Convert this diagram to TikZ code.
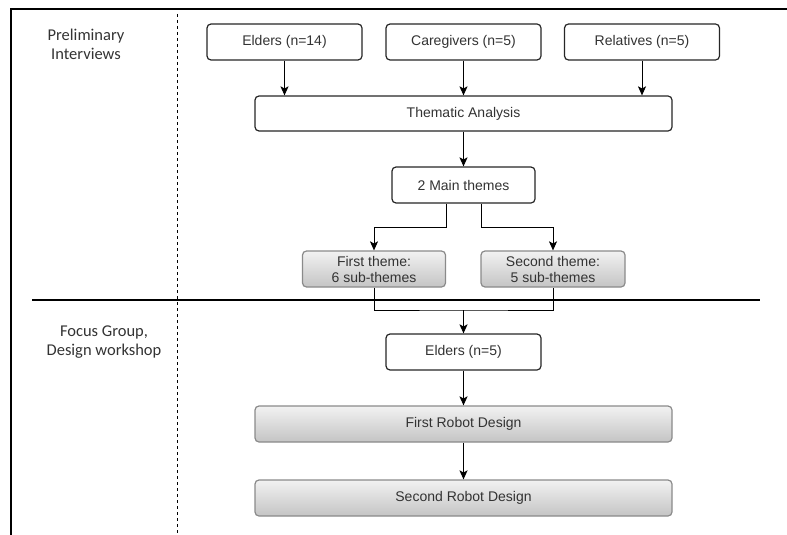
\documentclass[tikz,border=0pt]{standalone}
\usepackage{fontspec}
\setmainfont{Liberation Sans}
\newfontfamily\lblfont{Carlito}
\usetikzlibrary{arrows.meta,calc}
\definecolor{txtgray}{HTML}{333333}
\definecolor{bordgray}{HTML}{8A8A8A}
\definecolor{gtop}{HTML}{F2F2F2}
\definecolor{gbot}{HTML}{C4C4C4}
\tikzset{
  wbox/.style={draw=black!85, line width=1.2pt, rounded corners=4pt, fill=white,
    inner sep=0pt, align=center, text=txtgray, font=\fontsize{14}{16}\selectfont},
  gbox/.style={draw=bordgray, line width=1.2pt, rounded corners=4pt,
    top color=gtop, bottom color=gbot, inner sep=0pt, align=center, text=txtgray,
    font=\fontsize{14}{16}\selectfont},
  lbl/.style={align=center, text=txtgray, inner sep=0pt, font=\lblfont\fontsize{16.5}{19}\selectfont},
  arr/.style={line width=1pt, -{Stealth[length=9pt,width=8pt,inset=2pt]}},
  conn/.style={line width=1pt},
}
\begin{document}
\begin{tikzpicture}[x=1pt,y=-1pt]
\useasboundingbox (0,0) rectangle (787,535);
% frame
\draw[line width=2pt] (11,535) -- (11,9) -- (787,9);
\draw[line width=1pt, dash pattern=on 3pt off 3pt] (177,14) -- (177,535);
\draw[line width=2pt] (32,300) -- (760,300);
% labels
\node[lbl] (lpi) at (86,44) {Preliminary\\Interviews};
\node[lbl] (lfg) at (104,342) {Focus Group,\\Design workshop};
% boxes
\node[wbox, minimum width=155pt, minimum height=36pt] (e14) at (284.5,42) {Elders (n=14)};
\node[wbox, minimum width=155pt, minimum height=36pt] (cg) at (463.5,42) {Caregivers (n=5)};
\node[wbox, minimum width=155pt, minimum height=36pt] (rel) at (642,42) {Relatives (n=5)};
\node[wbox, minimum width=417pt, minimum height=35pt] (ta) at (463.5,113.5) {Thematic Analysis};
\node[wbox, minimum width=143pt, minimum height=36pt] (mt) at (463.5,185) {2 Main themes};
\node[gbox, minimum width=143pt, minimum height=36pt] (ft) at (374,269) {First theme:\\6 sub-themes};
\node[gbox, minimum width=144pt, minimum height=36pt] (st) at (553,269) {Second theme:\\5 sub-themes};
\node[wbox, minimum width=155pt, minimum height=36pt] (e5) at (463.5,352) {Elders (n=5)};
\node[gbox, minimum width=417pt, minimum height=36pt] (frd) at (463.5,424) {First Robot Design};
\node[gbox, minimum width=417pt, minimum height=36pt] (srd) at (463.5,498) {Second Robot Design};
% connectors
\draw[arr] (e14.south) -- (e14.south |- ta.north);
\draw[arr] (cg.south) -- (cg.south |- ta.north);
\draw[arr] (rel.south) -- (rel.south |- ta.north);
\draw[arr] (ta.south) -- (mt.north);
\draw[arr] ([xshift=-17.5pt]mt.south) -- ++(0,24) -| (ft.north);
\draw[arr] ([xshift=17.5pt]mt.south) -- ++(0,24) -| (st.north);
\coordinate (m) at (463.5,310);
\draw[conn] (ft.south) |- (m) -| (st.south);
\draw[arr] (m) -- (e5.north);
\draw[arr] (e5.south) -- (frd.north);
\draw[arr] (frd.south) -- (srd.north);
\end{tikzpicture}
\end{document}
